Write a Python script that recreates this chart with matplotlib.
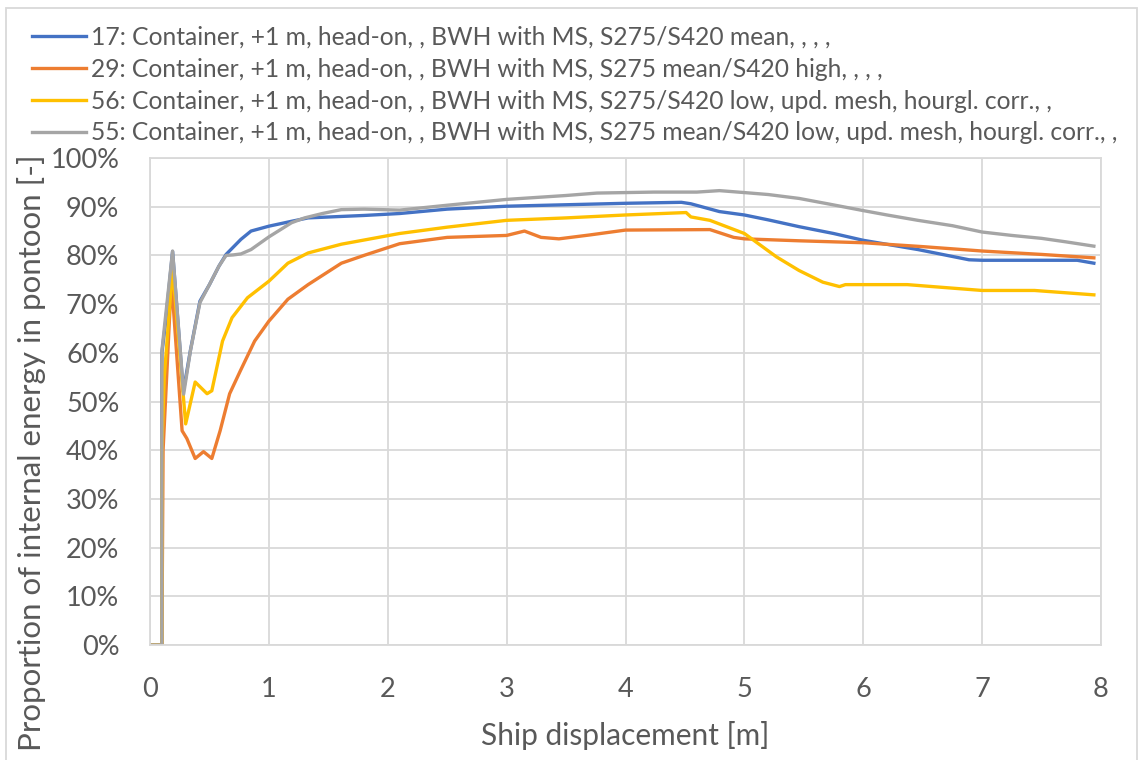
import matplotlib
matplotlib.use("Agg")
import matplotlib.pyplot as plt
from matplotlib.patches import Rectangle

plt.rcParams['font.family'] = ['Lato', 'DejaVu Sans']

# series (x in m, y in %)
x17 = [0, 0.1, 0.1, 0.13, 0.19, 0.28, 0.34, 0.42, 0.5, 0.58, 0.64, 0.765, 0.85, 1.0, 1.19, 1.33,
       1.61, 1.8, 2.1, 2.5, 3.0, 3.5, 4.0, 4.47, 4.55, 4.79, 5.0, 5.2, 5.46, 5.75, 6.0, 6.46,
       6.89, 7.0, 7.8, 7.94]
y17 = [0, 0, 60, 66, 80.8, 52, 60.5, 70.6, 74, 77.8, 80.2, 83.3, 85, 86, 87, 87.7,
       88, 88.2, 88.6, 89.5, 90.1, 90.4, 90.7, 90.9, 90.6, 89, 88.3, 87.3, 85.9, 84.5, 83.1, 81.2,
       79.1, 79, 79, 78.4]

x29 = [0, 0.1, 0.11, 0.18, 0.27, 0.31, 0.38, 0.45, 0.52, 0.59, 0.67, 0.76, 0.88, 1.0, 1.16,
       1.33, 1.61, 1.8, 2.1, 2.5, 3.0, 3.15, 3.29, 3.44, 3.7, 4.0, 4.71, 4.91, 5.0, 5.46, 6.0,
       6.5, 7.0, 7.5, 7.94]
y29 = [0, 0, 40, 75, 44, 42.4, 38.3, 39.7, 38.3, 44, 51.6, 56.3, 62.4, 66.5, 71,
       74, 78.4, 80, 82.4, 83.7, 84.1, 85, 83.7, 83.4, 84.2, 85.2, 85.3, 83.7, 83.4, 83, 82.6,
       81.8, 80.9, 80.2, 79.5]

x56 = [0, 0.1, 0.1, 0.12, 0.19, 0.3, 0.38, 0.48, 0.52, 0.61, 0.69, 0.82, 1.0, 1.16, 1.33, 1.61,
       2.1, 2.5, 3.0, 3.5, 4.0, 4.51, 4.55, 4.71, 5.0, 5.27, 5.46, 5.66, 5.8, 5.85, 6.37, 7.0,
       7.44, 7.94]
y56 = [0, 0, 40, 55, 77.4, 45.4, 54, 51.6, 52.2, 62.4, 67.2, 71.3, 74.7, 78.4, 80.5, 82.3,
       84.5, 85.8, 87.2, 87.7, 88.3, 88.8, 87.9, 87.2, 84.5, 79.7, 76.9, 74.5, 73.6, 74, 74, 72.8,
       72.8, 71.9]

x55 = [0, 0.1, 0.1, 0.127, 0.19, 0.283, 0.34, 0.42, 0.5, 0.58, 0.64, 0.7, 0.765, 0.85, 1.0, 1.19,
       1.3, 1.45, 1.61, 1.8, 2.1, 2.5, 3.0, 3.5, 3.76, 4.24, 4.6, 4.79, 5.0, 5.2, 5.46, 5.7, 6.0,
       6.2, 6.46, 6.75, 7.0, 7.25, 7.5, 7.7, 7.94]
y55 = [0, 0, 60.4, 66.6, 80.9, 51.5, 60.4, 70.3, 74, 77.8, 80, 80.1, 80.3, 81.2, 83.8, 86.7,
       87.7, 88.6, 89.4, 89.5, 89.3, 90.3, 91.5, 92.3, 92.8, 93, 93, 93.3, 92.9, 92.5, 91.7, 90.6, 89.2,
       88.3, 87.2, 86.1, 84.8, 84.1, 83.5, 82.8, 81.9]

labels = [
    "17: Container, +1 m, head-on, , BWH with MS, S275/S420 mean, , , ,",
    "29: Container, +1 m, head-on, , BWH with MS, S275 mean/S420 high, , , ,",
    "56: Container, +1 m, head-on, , BWH with MS, S275/S420 low, upd. mesh, hourgl. corr., ,",
    "55: Container, +1 m, head-on, , BWH with MS, S275 mean/S420 low, upd. mesh, hourgl. corr., ,",
]
colors = ["#4472C4", "#ED7D31", "#FFC000", "#A5A5A5"]
txt = "#595959"
grid = "#D9D9D9"

fig = plt.figure(figsize=(11.4, 7.6), dpi=100)
ax = fig.add_axes([150/1140, 1 - 645/760, (1101-150)/1140, (645-158)/760])

for xs, ys, c, lab in zip([x17, x29, x56, x55], [y17, y29, y56, y55], colors, labels):
    ax.plot(xs, ys, color=c, lw=2.4, label=lab, solid_joinstyle='round')

ax.set_xlim(0, 8)
ax.set_ylim(0, 100)
ax.set_xticks(range(0, 9))
ax.set_yticks(range(0, 101, 10))
ax.set_yticklabels([f"{v}%" for v in range(0, 101, 10)])
ax.grid(True, color=grid, lw=1.3)
ax.set_axisbelow(True)
for s in ax.spines.values():
    s.set_color(grid)
    s.set_linewidth(1.3)
ax.tick_params(length=0, labelsize=19.5, colors=txt)
ax.tick_params(axis='y', pad=22)
ax.tick_params(axis='x', pad=23)
ax.set_xlabel("Ship displacement [m]", fontsize=21.5, color=txt, labelpad=14)
# y title sits a bit below the plot centre in the original
fig.text(32/1140, 1 - 453/760, "Proportion of internal energy in pontoon [-]", fontsize=22.5,
         color=txt, rotation=90, ha='center', va='center')

fig.legend(loc='upper left', bbox_to_anchor=(22/1140, 1 - 16/760), frameon=False,
           fontsize=17.7, labelcolor=txt, handlelength=2.2, handletextpad=0.2,
           labelspacing=0.36, borderaxespad=0)

fig.patches.append(Rectangle((6/1140, -0.01), 1131/1140, 1 - 8/760 + 0.01, transform=fig.transFigure,
                             fill=False, edgecolor=grid, lw=1.3))

fig.savefig("out.png", dpi=100)
